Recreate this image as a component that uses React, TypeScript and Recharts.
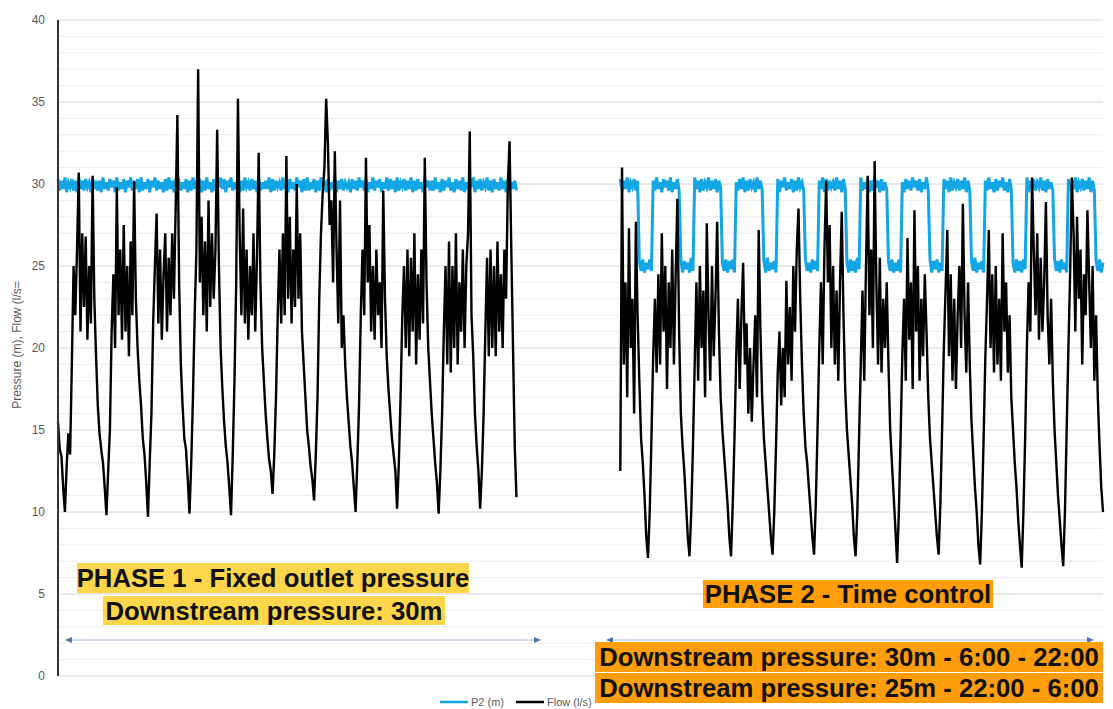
import { LineChart, Line, XAxis, YAxis, CartesianGrid } from "recharts";

// hours since start of record (start = 22:00 of day 0)
const PHASE2_START = 325;
const LAST_HOUR = 604;

// Flow (l/s), one reading per hour – phase 1, fixed outlet pressure
const phase1Flow = [
  15.5, 13.8, 13.4, 11.5,
  10.0, 12.8, 14.8, 13.5, 19, 25, 22, 26, 30.7, 21, 27, 22.5, 26.8, 20.5, 25, 21.5, 30.5, 23, 19.5, 16.5, 14.8, 13.8, 13.0, 11.5,
  9.8, 12.5, 15, 21, 24.5, 20, 29.8, 22, 26, 20.5, 27.5, 21, 25, 19.5, 26.5, 22, 30.2, 23, 20, 18, 16.5, 14.5, 13.5, 11.8,
  9.7, 13, 16, 21.5, 25, 28.2, 21.5, 26, 20.5, 24.5, 27, 21, 25.5, 22, 27, 23, 28.5, 34.2, 24, 19, 16.5, 14.5, 13.8, 12,
  9.9, 13, 17, 22, 26, 37.0, 24, 28, 22, 26.5, 21, 29, 22.5, 27, 23, 26, 33.3, 25, 20, 17.5, 15.5, 14, 13, 11.5,
  9.8, 13.5, 18, 24, 35.2, 27, 22, 28.5, 21.5, 26, 20.5, 25, 22, 27, 21, 25.5, 31.9, 24, 20, 18, 16, 14.5, 13.2, 12.5,
  11.1, 13.5, 17, 22, 26, 21.5, 27, 22, 31.7, 23, 28, 21.5, 26, 22.5, 30.0, 23, 27, 21, 19, 17, 15, 14, 12.8, 12,
  10.7, 13.5, 17, 23, 27, 29.5, 31, 35.2, 32.5, 27.5, 29, 24, 32, 26, 21.5, 29, 20, 22, 19, 17, 15.5, 14, 13, 11.5,
  10.0, 13, 16.5, 22, 26, 22, 31.6, 24, 27.5, 21, 25, 20.5, 26, 22, 24, 20, 29.6, 23, 19.5, 17.5, 16, 14.5, 13.5, 12.5,
  10.2, 13, 17, 22, 25, 20, 26, 19.5, 25.5, 21, 27, 19, 24.5, 20.5, 26, 21.5, 31.6, 24, 20, 18, 16, 14.5, 13, 11.8,
  9.9, 12.5, 16, 21, 25, 19, 26.5, 18.5, 25, 20, 27, 19, 24, 21, 26, 20, 25, 27, 33.2, 22, 19.5, 16, 14, 12.5,
  10.2, 12.5, 16, 21, 25.5, 19.5, 26, 20, 25, 19.5, 26.5, 21, 24.5, 20, 26, 23, 30, 32.6, 26, 20, 14, 10.9,
];

// P2 (m) – phase 1
const phase1Pressure = [
  30.3, 29.6, 30.2, 29.7, 30.4, 29.5, 30.1, 29.8, 30.3, 29.6, 30.2, 29.5, 30.4, 29.7, 30.2, 29.6, 30.3, 29.8, 30.1, 29.5, 30.3, 29.7, 30.2, 29.6,
  30.2, 29.5, 30.4, 29.7, 30.1, 29.6, 30.3, 29.8, 30.2, 29.5, 30.4, 29.6, 30.1, 29.7, 30.3, 29.5, 30.2, 29.8, 30.4, 29.6, 30.1, 29.7, 30.3, 29.5,
  30.4, 29.6, 30.1, 29.7, 30.3, 29.5, 30.2, 29.8, 30.4, 29.6, 30.2, 29.7, 30.1, 29.5, 30.3, 29.6, 30.4, 29.7, 30.2, 29.5, 30.3, 29.8, 30.1, 29.6,
  30.1, 29.7, 30.3, 29.5, 30.2, 29.6, 30.4, 29.7, 30.1, 29.8, 30.3, 29.5, 30.2, 29.6, 30.4, 29.7, 30.1, 29.5, 30.3, 29.6, 30.2, 29.8, 30.4, 29.7,
  30.3, 29.5, 30.2, 29.8, 30.4, 29.6, 30.1, 29.7, 30.3, 29.5, 30.2, 29.6, 30.4, 29.8, 30.1, 29.6, 30.3, 29.7, 30.2, 29.5, 30.4, 29.6, 30.1, 29.7,
  30.2, 29.7, 30.4, 29.5, 30.3, 29.6, 30.2, 29.8, 30.1, 29.6, 30.4, 29.7, 30.2, 29.5, 30.3, 29.7, 30.1, 29.6, 30.4, 29.8, 30.2, 29.5, 30.3, 29.6,
  30.4, 29.6, 30.1, 29.7, 30.3, 29.5, 30.2, 29.6, 30.4, 29.8, 30.2, 29.5, 30.3, 29.6, 30.1, 29.7, 30.4, 29.5, 30.2, 29.7, 30.3, 29.6, 30.1, 29.8,
  30.1, 29.5, 30.3, 29.7, 30.2, 29.6, 30.4, 29.8, 30.2, 29.6, 30.3, 29.5, 30.1, 29.7, 30.4, 29.6, 30.2, 29.8, 30.3, 29.5, 30.1, 29.7, 30.4, 29.6,
  30.3, 29.7, 30.2, 29.5, 30.4, 29.6, 30.1, 29.8, 30.3, 29.6, 30.2, 29.7, 30.4, 29.5, 30.2, 29.6, 30.3, 29.7, 30.1, 29.5, 30.4, 29.8, 30.2, 29.6,
  30.2, 29.6, 30.4, 29.7, 30.1, 29.5, 30.3, 29.6, 30.2, 29.8, 30.4, 29.6, 30.1, 29.5, 30.3, 29.7, 30.2, 29.6, 30.4, 29.5, 30.1, 29.7, 30.3, 29.8,
  30.4, 29.5, 30.2, 29.7, 30.3, 29.6, 30.1, 29.8, 30.4, 29.6, 30.2, 29.5, 30.3, 29.7, 30.1, 29.6, 30.4, 29.7, 30.2, 29.5, 30.3, 29.6, 30.1, 29.7,
  30.2, 29.6,
];

// Flow (l/s) – phase 2, time control
const phase2Flow = [
  12.5, 31.0, 19, 24, 17, 27.3, 20, 23, 16, 27.7, 22, 18, 14.5, 13, 11, 8.5,
  7.2, 10, 14.5, 19.5, 23, 18.5, 24.5, 19, 27.0, 21, 25, 17.5, 24, 20, 26, 19, 24.5, 29.1, 21, 16, 14, 12.5, 10.5, 8.5,
  7.3, 10, 14, 19, 24, 18, 25, 20, 23.5, 17, 27.6, 22, 18, 25, 19.5, 23, 27.7, 21, 17, 15, 13.5, 12, 10.5, 8.5,
  7.3, 10.5, 14.5, 19.5, 23, 17.5, 22, 25.2, 19, 21.5, 16, 20, 15.5, 19, 22, 17, 27.2, 21, 17, 14.5, 13, 11.5, 10, 8.5,
  7.4, 10, 14, 18.5, 21, 16.5, 20, 17, 24.1, 19, 22.5, 18, 25, 21, 26, 28.5, 23, 19, 16, 14, 13, 11.5, 10, 8.5,
  7.4, 10.5, 15, 20, 24, 19, 26, 30.2, 24, 27.5, 20, 25, 19, 23.5, 18, 24, 28.3, 22, 17.5, 15, 13.5, 12, 10.5, 8.5,
  7.3, 10, 14.5, 19, 23.5, 18, 25, 30.5, 22, 26, 20, 31.4, 24, 19, 25.5, 18.5, 23, 20, 24, 19, 15, 13, 11, 9,
  6.9, 10, 14.5, 19.5, 23, 18, 26.7, 20.5, 24, 17.5, 28.4, 21, 25, 18, 23, 19.5, 24.5, 21, 17, 14.5, 13, 11.5, 10, 8.5,
  7.4, 10.5, 15, 20, 23.5, 27.2, 19.5, 24.5, 18, 23, 17.5, 22, 25, 20, 28.8, 22, 18.5, 24, 19, 15.5, 13.5, 11.5, 10, 8,
  6.8, 10, 14.5, 19.5, 23, 27.2, 20, 24.5, 18.5, 25, 19, 23, 18, 27.0, 21, 24, 18.5, 22, 17, 15, 13, 11.5, 9.5, 8,
  6.6, 10, 14.5, 20, 24, 21, 30.4, 26, 22, 27, 20.5, 25.5, 21, 24, 28.9, 22, 19, 23, 18, 15, 13, 11, 9.5, 8,
  6.7, 10, 15, 20, 24.5, 30.4, 27, 21, 28, 23, 26, 19, 24.5, 22, 28.4, 24, 20, 25, 18, 22, 17, 14, 11.5, 10.0,
];

// P2 (m) – phase 2: 30 m from 6:00 to 22:00, 25 m from 22:00 to 6:00
const phase2Pressure = [
  30.3, 29.6, 30.2, 29.7, 30.4, 29.5, 30.1, 29.8, 30.3, 29.6, 30.2,
  25.3, 24.7, 25.4, 24.6, 25.2, 24.8, 25.4, 24.7,
  30.2, 29.6, 30.4, 29.7, 30.1, 29.5, 30.3, 29.8, 30.2, 29.6, 30.4, 29.5, 30.1, 29.7, 30.3, 29.6, 25.4, 24.6, 25.3, 24.8, 25.2, 24.6, 25.5, 24.7,
  30.4, 29.7, 30.2, 29.5, 30.3, 29.6, 30.1, 29.8, 30.4, 29.6, 30.2, 29.7, 30.3, 29.5, 30.2, 29.8, 25.2, 24.7, 25.4, 24.6, 25.3, 24.8, 25.4, 24.6,
  30.1, 29.6, 30.3, 29.7, 30.4, 29.5, 30.2, 29.6, 30.3, 29.8, 30.1, 29.5, 30.4, 29.7, 30.2, 29.6, 25.3, 24.6, 25.5, 24.7, 25.2, 24.8, 25.3, 24.6,
  30.3, 29.5, 30.2, 29.8, 30.4, 29.6, 30.1, 29.7, 30.3, 29.5, 30.2, 29.6, 30.4, 29.8, 30.1, 29.6, 25.4, 24.7, 25.2, 24.6, 25.4, 24.8, 25.3, 24.7,
  30.2, 29.7, 30.4, 29.5, 30.3, 29.6, 30.2, 29.8, 30.1, 29.6, 30.4, 29.7, 30.2, 29.5, 30.3, 29.7, 25.2, 24.6, 25.4, 24.7, 25.3, 24.6, 25.5, 24.8,
  30.4, 29.6, 30.1, 29.7, 30.3, 29.5, 30.2, 29.6, 30.4, 29.8, 30.2, 29.5, 30.3, 29.6, 30.1, 29.7, 25.3, 24.7, 25.4, 24.6, 25.2, 24.7, 25.4, 24.6,
  30.1, 29.5, 30.3, 29.7, 30.2, 29.6, 30.4, 29.8, 30.2, 29.6, 30.3, 29.5, 30.1, 29.7, 30.4, 29.6, 25.4, 24.6, 25.3, 24.8, 25.4, 24.6, 25.2, 24.7,
  30.3, 29.7, 30.2, 29.5, 30.4, 29.6, 30.1, 29.8, 30.3, 29.6, 30.2, 29.7, 30.4, 29.5, 30.2, 29.6, 25.3, 24.7, 25.5, 24.6, 25.2, 24.8, 25.3, 24.6,
  30.2, 29.6, 30.4, 29.7, 30.1, 29.5, 30.3, 29.6, 30.2, 29.8, 30.4, 29.6, 30.1, 29.5, 30.3, 29.7, 25.2, 24.6, 25.4, 24.7, 25.3, 24.6, 25.4, 24.8,
  30.4, 29.5, 30.2, 29.7, 30.3, 29.6, 30.1, 29.8, 30.4, 29.6, 30.2, 29.5, 30.3, 29.7, 30.1, 29.6, 25.4, 24.7, 25.3, 24.6, 25.4, 24.8, 25.2, 24.6,
  30.3, 29.6, 30.2, 29.7, 30.4, 29.5, 30.1, 29.8, 30.3, 29.6, 30.2, 29.7, 30.4, 29.5, 30.2, 29.6,
  25.3, 24.7, 25.4, 24.6, 25.2,
];

const yTicks = [0, 5, 10, 15, 20, 25, 30, 35, 40];
const minorGrid = [1, 2, 3, 4, 6, 7, 8, 9, 11, 12, 13, 14, 16, 17, 18, 19, 21, 22, 23, 24, 26, 27, 28, 29, 31, 32, 33, 34, 36, 37, 38, 39];

const BLUE = "#12a6e6";
const YELLOW = "#fdd64b";
const ORANGE = "#ff9d0a";
const GREY_TEXT = "#595959";

// one row per hour, nulls in the gap between the two phases
const data: { h: number; flow: number | null; p2: number | null }[] = [];
for (let h = 0; h <= LAST_HOUR; h++) {
  const i2 = h - PHASE2_START;
  let flow: number | null = null;
  let p2: number | null = null;
  if (h < phase1Flow.length) {
    flow = phase1Flow[h];
    p2 = phase1Pressure[h] ?? null;
  } else if (i2 >= 0) {
    flow = phase2Flow[i2] ?? null;
    p2 = phase2Pressure[i2] ?? null;
  }
  data.push({ h, flow, p2 });
}

const boxText: React.CSSProperties = {
  position: "absolute",
  display: "flex",
  alignItems: "center",
  justifyContent: "center",
  whiteSpace: "nowrap",
  fontWeight: 700,
  fontSize: 25.7,
  lineHeight: "30px",
  color: "#111",
};

function Arrow({ x1, x2, y }: { x1: number; x2: number; y: number }) {
  return (
    <g>
      <line x1={x1} x2={x2} y1={y} y2={y} stroke="#a9bcd8" strokeWidth={1.2} />
      <polygon points={`${x1 - 3},${y} ${x1 + 4},${y - 3} ${x1 + 4},${y + 3}`} fill="#4f74a8" />
      <polygon points={`${x2 + 3},${y} ${x2 - 4},${y - 3} ${x2 - 4},${y + 3}`} fill="#4f74a8" />
    </g>
  );
}

export default function App() {
  return (
    <div
      style={{
        position: "absolute",
        left: 0,
        top: 0,
        width: 1113,
        height: 709,
        background: "#fff",
        overflow: "hidden",
        fontFamily: '"Liberation Sans", Arial, sans-serif',
      }}
    >
      <LineChart width={1113} height={709} data={data} margin={{ top: 20, right: 10, bottom: 33, left: 0 }}>
        <CartesianGrid vertical={false} horizontalValues={minorGrid} stroke="#ededed" />
        <CartesianGrid vertical={false} stroke="#d6d6d6" />
        <XAxis dataKey="h" type="number" domain={[0, LAST_HOUR]} hide />
        <YAxis
          domain={[0, 40]}
          ticks={yTicks}
          interval={0}
          width={58}
          axisLine={{ stroke: "#333", strokeWidth: 2 }}
          tickLine={false}
          tickMargin={7}
          tick={{ fill: GREY_TEXT, fontSize: 12 }}
        />
        <Line dataKey="p2" name="P2 (m)" stroke={BLUE} strokeWidth={3} dot={false} isAnimationActive={false} />
        <Line dataKey="flow" name="Flow (l/s)" stroke="#000" strokeWidth={2.4} dot={false} isAnimationActive={false} />
      </LineChart>

      <svg width={1113} height={709} style={{ position: "absolute", left: 0, top: 0, pointerEvents: "none" }}>
        <text transform="translate(21,345) rotate(-90)" textAnchor="middle" fontSize={12} fill={GREY_TEXT}>
          Pressure (m), Flow (l/s=
        </text>
        <Arrow x1={68} x2={538} y={640} />
        <Arrow x1={609} x2={1091} y={640} />
        <line x1={440} x2={468} y1={702} y2={702} stroke={BLUE} strokeWidth={2.5} />
        <text x={471} y={706} fontSize={11} fill={GREY_TEXT}>P2 (m)</text>
        <line x1={516} x2={544} y1={702} y2={702} stroke="#000" strokeWidth={2.5} />
        <text x={547} y={706} fontSize={11} fill={GREY_TEXT}>Flow (l/s)</text>
      </svg>

      <div style={{ ...boxText, left: 77, top: 563, width: 392, height: 30, background: YELLOW }}>
        PHASE 1 - Fixed outlet pressure
      </div>
      <div style={{ ...boxText, left: 103, top: 596, width: 342, height: 29, background: YELLOW }}>
        Downstream pressure: 30m
      </div>
      <div style={{ ...boxText, left: 703, top: 580, width: 290, height: 28, background: ORANGE }}>
        PHASE 2 - Time control
      </div>
      <div style={{ ...boxText, left: 595, top: 642, width: 508, height: 30, background: ORANGE }}>
        Downstream pressure: 30m - 6:00 - 22:00
      </div>
      <div style={{ ...boxText, left: 595, top: 673, width: 508, height: 30, background: ORANGE }}>
        Downstream pressure: 25m - 22:00 - 6:00
      </div>
    </div>
  );
}
